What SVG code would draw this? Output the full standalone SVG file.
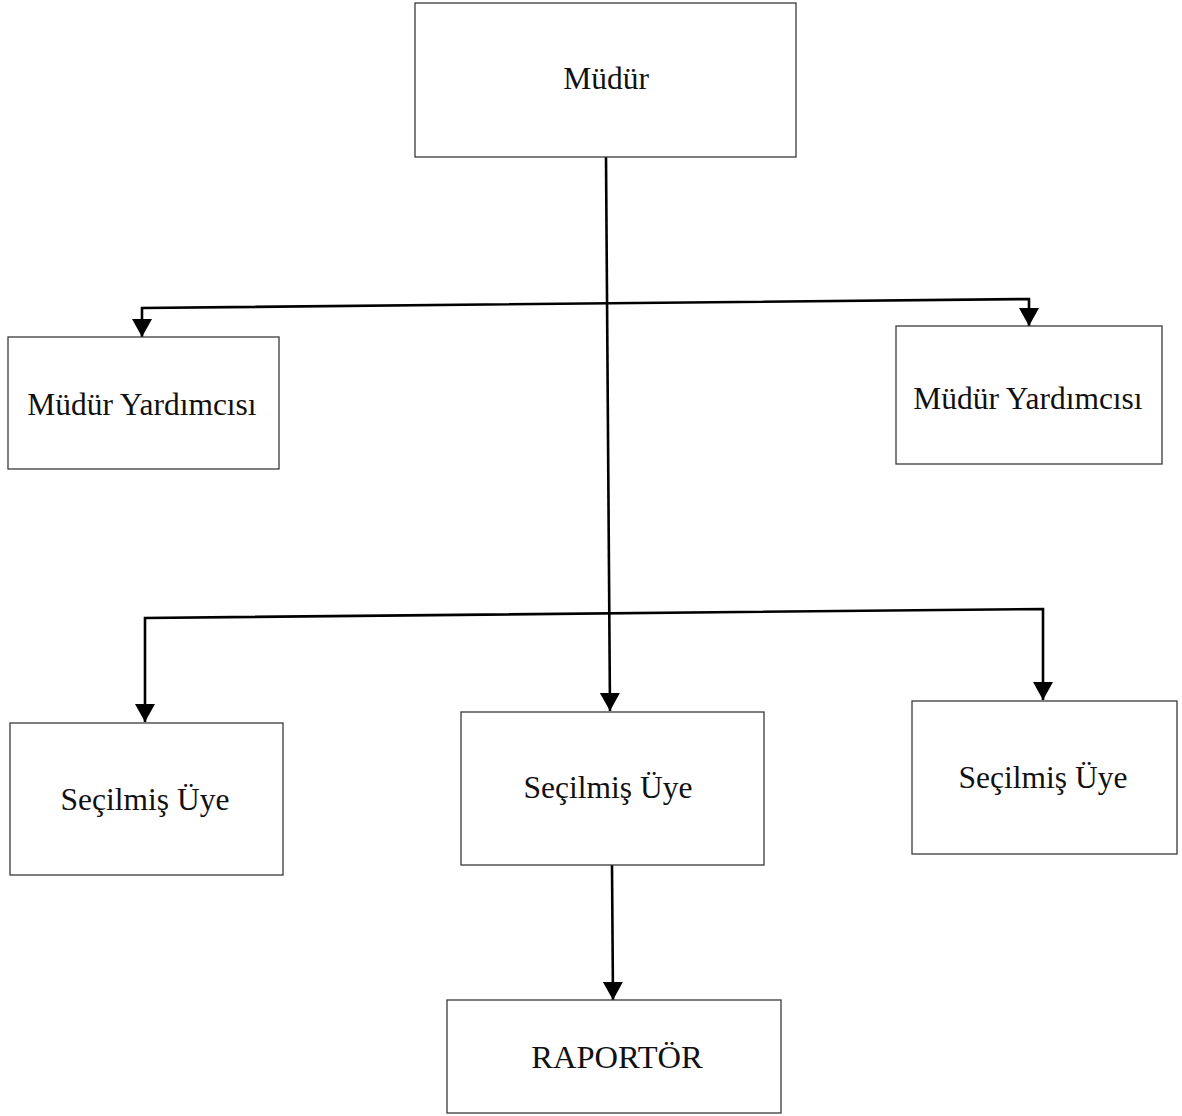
<svg xmlns="http://www.w3.org/2000/svg" width="1182" height="1116" viewBox="0 0 1182 1116">
  <style>
    .box { fill: #ffffff; stroke: #3a3a3a; stroke-width: 1.3; }
    .label { font-family: "Liberation Serif", "Times New Roman", serif; font-size: 31.5px; fill: #111111; text-anchor: middle; }
    .link { fill: none; stroke: #000000; stroke-width: 2.6; stroke-linejoin: miter; }
  </style>
  <defs>
    <!-- filled triangular head, drawn pointing along +x so orient="auto" turns it to the line -->
    <marker id="arrow" markerUnits="userSpaceOnUse" markerWidth="20" markerHeight="22" viewBox="0 0 20 22" refX="19" refY="11" orient="auto-start-reverse">
      <path d="M1,1 L19,11 L1,21 Z" fill="#000000"/>
    </marker>
  </defs>
  <rect width="1182" height="1116" fill="#ffffff"/>

  <g id="connectors">
    <!-- Müdür down to the middle elected member -->
    <path class="link" d="M606,157 L610,711" marker-end="url(#arrow)"/>
    <!-- branch to the two deputies -->
    <path class="link" d="M142,337 L142,308 L1029,299 L1029,326" marker-start="url(#arrow)" marker-end="url(#arrow)"/>
    <!-- branch to the outer elected members -->
    <path class="link" d="M145,722 L145,618 L1043,609 L1043,700" marker-start="url(#arrow)" marker-end="url(#arrow)"/>
    <!-- elected member down to the rapporteur -->
    <path class="link" d="M612,865 L613,1000" marker-end="url(#arrow)"/>
  </g>

  <g id="mudur">
    <rect class="box" x="415" y="3" width="381" height="154"/>
    <text class="label" x="606" y="89">Müdür</text>
  </g>

  <g id="yardimci-sol">
    <rect class="box" x="8" y="337" width="271" height="132"/>
    <text class="label" x="142" y="415">Müdür Yardımcısı</text>
  </g>

  <g id="yardimci-sag">
    <rect class="box" x="896" y="326" width="266" height="138"/>
    <text class="label" x="1028" y="409">Müdür Yardımcısı</text>
  </g>

  <g id="uye-sol">
    <rect class="box" x="10" y="723" width="273" height="152"/>
    <text class="label" x="145" y="810">Seçilmiş Üye</text>
  </g>

  <g id="uye-orta">
    <rect class="box" x="461" y="712" width="303" height="153"/>
    <text class="label" x="608" y="798">Seçilmiş Üye</text>
  </g>

  <g id="uye-sag">
    <rect class="box" x="912" y="701" width="265" height="153"/>
    <text class="label" x="1043" y="788">Seçilmiş Üye</text>
  </g>

  <g id="raportor">
    <rect class="box" x="447" y="1000" width="334" height="113"/>
    <text class="label" x="617" y="1068" style="font-size:32.5px">RAPORTÖR</text>
  </g>
</svg>
